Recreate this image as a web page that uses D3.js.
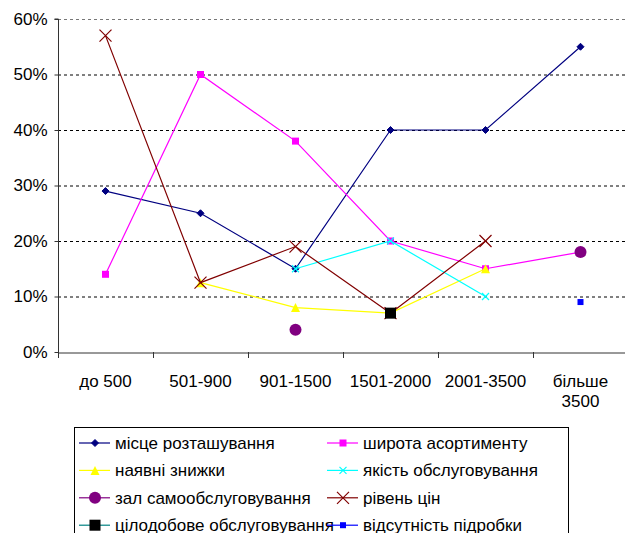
<!DOCTYPE html>
<html><head><meta charset="utf-8">
<script src="https://cdn.jsdelivr.net/npm/d3@7"></script>
<style>body{margin:0;background:#fff}svg{display:block;font-family:"Liberation Sans",Arial,sans-serif}</style>
</head><body><svg id="c" width="625" height="533"></svg>
<script>
const categories = ["до 500","501-900","901-1500","1501-2000","2001-3500","більше 3500"];
const yTicks = [0,10,20,30,40,50,60];
const seriesNames = ["місце розташування","широта асортименту","наявні знижки","якість обслуговування","зал самообслуговування","рівень цін","цілодобове обслуговування","відсутність підробки"];
const mistse = [29,25,15,40,40,55];
const shyrota = [14,50,38,20,15,18];
const znyzhky = [null,12.5,8,7,15,null];
const yakist = [null,null,15,20,10,null];
const zal = [null,null,4,null,null,18];
const riven = [57,12.5,19,7,20,null];
const tsilodobove = [null,null,null,7,null,null];
const pidrobka = [null,null,null,null,null,9];
const seriesValues = [mistse,shyrota,znyzhky,yakist,zal,riven,tsilodobove,pidrobka];

const styles = [
  {color:"#000080", marker:"diamond", size:7},
  {color:"#FF00FF", marker:"square", size:7},
  {color:"#FFFF00", marker:"triangle", size:9},
  {color:"#00FFFF", marker:"x", size:7},
  {color:"#800080", marker:"circle", size:12},
  {color:"#800000", marker:"x", size:12},
  {color:"#008080", marker:"square", size:11, mcolor:"#000"},
  {color:"#0000FF", marker:"square", size:6}
];

const svg = d3.select("#c");
const L=58, T=19, B=352, R=628;
const x = d3.scaleBand().domain(categories).range([L,R]);
const y = d3.scaleLinear().domain([0,60]).range([B,T]);

// gridlines
svg.append("g").selectAll("line").data(yTicks.filter(d=>d>0)).join("line")
  .attr("x1",L).attr("x2",R).attr("y1",d=>y(d)+0.5).attr("y2",d=>y(d)+0.5)
  .attr("stroke",d=>d===60?"#777":"#000").attr("stroke-dasharray","3,3").attr("stroke-width",1);

// y axis
const ya = svg.append("g").attr("transform",`translate(${L+0.5},0)`)
  .call(d3.axisLeft(y).tickValues(yTicks).tickFormat(d=>d+"%").tickSize(4).tickPadding(7));
ya.select(".domain").attr("stroke","#333").attr("d",`M-4,${T}H0V${B+0.5}`);
ya.selectAll(".tick line").attr("stroke","#333");
ya.selectAll("text").attr("font-size",17).attr("fill","#000").attr("font-family","Liberation Sans, Arial, sans-serif");

// x axis
const xa = svg.append("g").attr("transform",`translate(0,${B+0.5})`)
  .call(d3.axisBottom(x).tickSize(0).tickPadding(22));
xa.select(".domain").attr("stroke","#333");
xa.selectAll(".tick text").attr("font-size",17).attr("fill","#000").attr("font-family","Liberation Sans, Arial, sans-serif")
  .each(function(d){
    if(d==="більше 3500"){
      const t=d3.select(this); t.text(null);
      t.append("tspan").attr("x",0).attr("dy","0.71em").text("більше");
      t.append("tspan").attr("x",0).attr("dy","1.2em").text("3500");
    }
  });
svg.append("g").selectAll("line").data(d3.range(categories.length+1)).join("line")
  .attr("x1",i=>Math.round(L+i*x.bandwidth())+0.5).attr("x2",i=>Math.round(L+i*x.bandwidth())+0.5)
  .attr("y1",B).attr("y2",B+6).attr("stroke","#333");

function marker(g, st, cx, cy){
  const s=st.size, c=st.mcolor||st.color;
  if(st.marker==="diamond"){
    g.append("path").attr("d",`M${cx},${cy-s/2}L${cx+s/2},${cy}L${cx},${cy+s/2}L${cx-s/2},${cy}Z`).attr("fill",c).attr("stroke",c);
  } else if(st.marker==="square"){
    g.append("rect").attr("x",cx-s/2).attr("y",cy-s/2).attr("width",s).attr("height",s).attr("fill",c);
  } else if(st.marker==="triangle"){
    g.append("path").attr("d",`M${cx},${cy-s/2}L${cx+s/2},${cy+s/2}L${cx-s/2},${cy+s/2}Z`).attr("fill",c);
  } else if(st.marker==="circle"){
    g.append("circle").attr("cx",cx).attr("cy",cy).attr("r",s/2).attr("fill",c);
  } else if(st.marker==="x"){
    g.append("path").attr("d",`M${cx-s/2},${cy-s/2}L${cx+s/2},${cy+s/2}M${cx+s/2},${cy-s/2}L${cx-s/2},${cy+s/2}`).attr("stroke",c).attr("stroke-width",1.2).attr("fill","none");
  }
}

const line = d3.line().defined(d=>d.v!=null).x(d=>x(d.c)+x.bandwidth()/2).y(d=>y(d.v));
seriesValues.forEach((vals,i)=>{
  const st=styles[i];
  const g=svg.append("g");
  const pts=vals.map((v,j)=>({c:categories[j],v}));
  g.append("path").datum(pts).attr("d",line).attr("fill","none").attr("stroke",st.color).attr("stroke-width",1.2);
  pts.filter(p=>p.v!=null).forEach(p=>marker(g,st,x(p.c)+x.bandwidth()/2,y(p.v)));
});

// legend
const lg = svg.append("g");
lg.append("rect").attr("x",74.5).attr("y",427.5).attr("width",494).attr("height",120).attr("fill","none").attr("stroke","#000");
seriesNames.forEach((n,i)=>{
  const col=i%2, row=Math.floor(i/2);
  const lx = col===0?79:327, ly=443+row*27.4;
  const st=styles[i];
  lg.append("line").attr("x1",lx).attr("x2",lx+31).attr("y1",ly).attr("y2",ly).attr("stroke",st.color).attr("stroke-width",1.2);
  marker(lg,st,lx+16,ly);
  lg.append("text").attr("x",lx+36).attr("y",ly).attr("dy","0.35em").attr("font-size",17).text(n);
});
</script></body></html>
